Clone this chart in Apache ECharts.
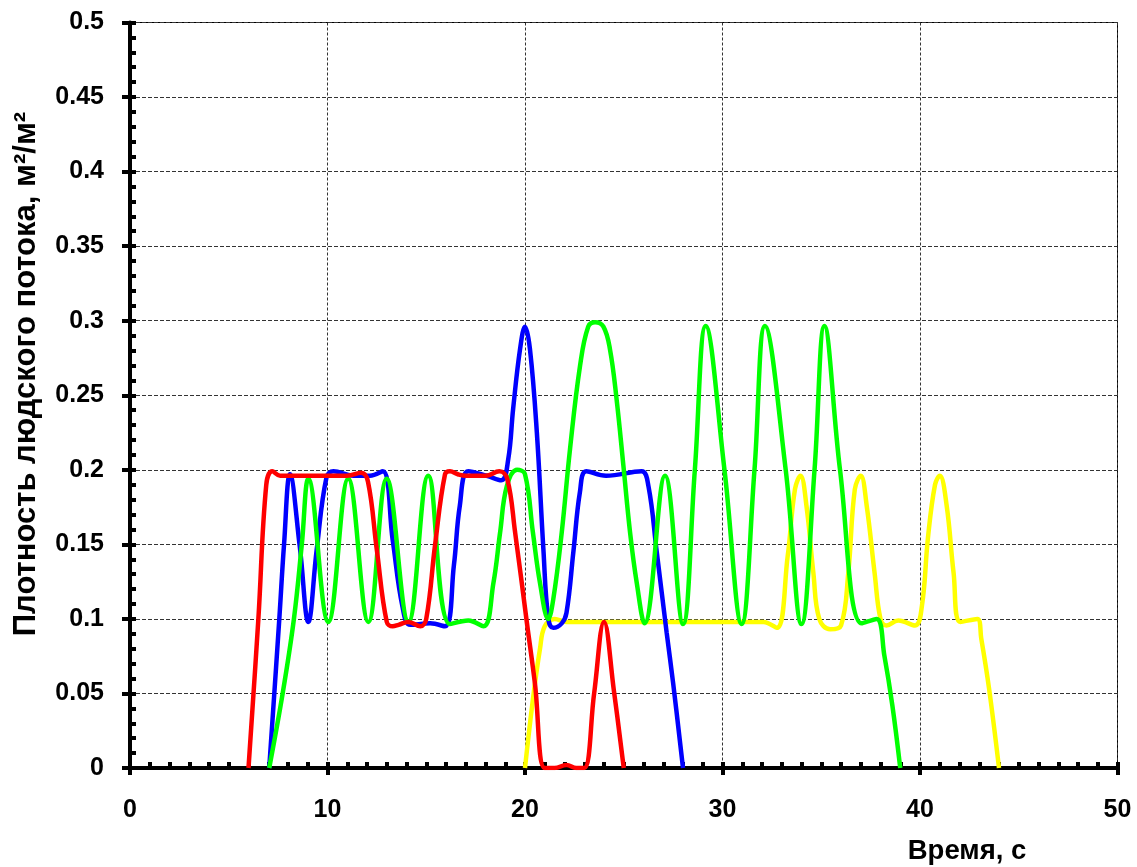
<!DOCTYPE html>
<html>
<head>
<meta charset="utf-8">
<script src="https://cdn.jsdelivr.net/npm/echarts@6/dist/echarts.min.js"></script>
<style>
html,body{margin:0;padding:0;background:#fff;}
#chart{width:1137px;height:867px;}
</style>
</head>
<body>
<div id="chart"></div>
<script>
// ---- data (time in seconds, density m2/m2) ----
const redTime   = [6, 6.5, 6.9, 7.2, 7.6, 8, 9, 10, 11, 11.7, 12.05, 12.5, 13, 13.3, 13.6, 14.1, 14.7, 15, 15.45, 15.95, 16.2, 16.6, 17, 18, 18.7, 19.1, 19.5, 20.1, 20.5, 21, 21.5, 22.1, 22.6, 23, 23.5, 24, 24.5, 25];
const redValues = [0, 0.1, 0.19, 0.199, 0.196, 0.196, 0.196, 0.196, 0.196, 0.198, 0.192, 0.146, 0.098, 0.095, 0.096, 0.098, 0.095, 0.1, 0.15, 0.197, 0.199, 0.197, 0.196, 0.196, 0.199, 0.194, 0.158, 0.097, 0.057, 0, 0, 0.002, 0, 0, 0.05, 0.098, 0.052, 0];

const blueTime   = [7.05, 7.56, 7.8, 8.1, 8.6, 9.03, 9.45, 9.95, 10.3, 11.3, 12.15, 12.8, 13.3, 13.8, 14.2, 15.2, 15.95, 16.4, 16.7, 17.13, 18.06, 18.8, 19.15, 19.4, 19.75, 20.0, 20.25, 20.6, 20.93, 21.18, 21.43, 21.86, 22.1, 22.45, 22.78, 23.1, 24.1, 25.9, 26.25, 26.67, 27.17, 27.5, 28.0];
const blueValues = [0, 0.1, 0.15, 0.197, 0.148, 0.098, 0.146, 0.195, 0.199, 0.196, 0.196, 0.199, 0.153, 0.108, 0.096, 0.097, 0.095, 0.136, 0.176, 0.199, 0.196, 0.193, 0.207, 0.241, 0.281, 0.296, 0.281, 0.225, 0.147, 0.1, 0.094, 0.097, 0.104, 0.145, 0.185, 0.199, 0.196, 0.199, 0.189, 0.145, 0.091, 0.057, 0];

const greenTime   = [7.05, 7.73, 8.3, 8.7, 9.03, 10.04, 11.05, 12.07, 13.0, 14.1, 15.1, 16.2, 17.13, 17.9, 18.4, 18.74, 19.08, 19.6, 20.0, 20.4, 20.76, 21.18, 21.43, 21.86, 22.28, 22.79, 23.2, 23.55, 23.97, 24.3, 24.64, 24.98, 25.32, 25.66, 26.05, 27.09, 28.0, 28.6, 29.15, 30.1, 30.97, 31.62, 32.15, 33.2, 34.0, 34.66, 35.16, 35.95, 37.05, 37.8, 38.2, 38.6, 39.0];
const greenValues = [0, 0.05, 0.1, 0.15, 0.194, 0.098, 0.194, 0.098, 0.194, 0.098, 0.196, 0.0965, 0.099, 0.095, 0.124, 0.158, 0.189, 0.2, 0.197, 0.158, 0.124, 0.1, 0.113, 0.158, 0.214, 0.27, 0.296, 0.299, 0.296, 0.281, 0.247, 0.203, 0.158, 0.124, 0.097, 0.196, 0.0965, 0.2, 0.2965, 0.2, 0.0965, 0.2, 0.2965, 0.2, 0.0965, 0.2, 0.2965, 0.2, 0.097, 0.1, 0.075, 0.042, 0];

const yellowTime   = [20.0, 20.4, 20.76, 21.0, 21.5, 22.1, 27, 32.07, 32.75, 33.3, 33.67, 33.95, 34.25, 34.6, 34.9, 35.45, 36.0, 36.37, 36.7, 37.0, 37.3, 37.7, 38.0, 38.3, 38.9, 39.75, 40.1, 40.4, 40.76, 41.0, 41.35, 41.7, 42.05, 42.9, 43.1, 43.5, 44.0];
const yellowValues = [0, 0.046, 0.08, 0.095, 0.1, 0.098, 0.098, 0.098, 0.094, 0.142, 0.187, 0.196, 0.176, 0.131, 0.1, 0.093, 0.0956, 0.131, 0.187, 0.196, 0.176, 0.131, 0.1, 0.0956, 0.099, 0.0956, 0.109, 0.154, 0.19, 0.196, 0.176, 0.131, 0.098, 0.1, 0.087, 0.053, 0];

const xTicks = [0, 10, 20, 30, 40, 50];
const yTicks = [0, 0.05, 0.1, 0.15, 0.2, 0.25, 0.3, 0.35, 0.4, 0.45, 0.5];

const xTitle = 'Время, с';
const yTitle = 'Плотность людского потока, м²/м²';

function pairs(t, v) { return t.map((x, i) => [x, v[i]]); }

const FONT = '"Liberation Sans", Arial, sans-serif';
const chart = echarts.init(document.getElementById('chart'), null, {renderer: 'canvas'});

const xMin = xTicks[0], xMax = xTicks[xTicks.length - 1], xInt = xTicks[1] - xTicks[0];
const yMin = yTicks[0], yMax = yTicks[yTicks.length - 1], yInt = yTicks[1] - yTicks[0];

function lineSeries(name, t, v, color, z) {
  return {
    name, type: 'line', data: pairs(t, v), smooth: 0.4, showSymbol: false, symbol: 'none',
    lineStyle: {color, width: 4.5}, z, clip: true
  };
}

chart.setOption({
  backgroundColor: '#fff',
  animation: false,
  grid: {left: 130, right: 19.5, top: 22.5, bottom: 99, show: true, borderColor: '#000', borderWidth: 1},
  xAxis: [{
    type: 'value', min: xMin, max: xMax, interval: xInt,
    axisLine: {show: true, onZero: false, lineStyle: {color: '#000', width: 4}},
    axisTick: {show: true, inside: false, length: 7, lineStyle: {color: '#000', width: 4}},
    minorTick: {show: false},
    axisLabel: {color: '#000', fontSize: 25, fontWeight: 'bold', fontFamily: FONT, margin: 30},
    splitLine: {show: true, lineStyle: {color: '#333', width: 1, type: [3, 2]}}
  }, {
    type: 'value', min: xMin, max: xMax, interval: xInt, position: 'bottom', offset: 0,
    axisLine: {show: false},
    axisTick: {show: true, inside: true, length: 6, lineStyle: {color: '#000', width: 4}},
    minorTick: {show: true, splitNumber: 10, length: 6, lineStyle: {color: '#000', width: 4}},
    axisLabel: {show: false}, splitLine: {show: false}
  }],
  yAxis: [{
    type: 'value', min: yMin, max: yMax, interval: yInt,
    axisLine: {show: true, onZero: false, lineStyle: {color: '#000', width: 4}},
    axisTick: {show: true, inside: false, length: 8, lineStyle: {color: '#000', width: 4}},
    minorTick: {show: false},
    axisLabel: {color: '#000', fontSize: 25, fontWeight: 'bold', fontFamily: FONT, margin: 26,
      formatter: v => String(Number(v.toFixed(2)))},
    splitLine: {show: true, lineStyle: {color: '#333', width: 1, type: [4, 2]}}
  }, {
    type: 'value', min: yMin, max: yMax, interval: yInt, position: 'left', offset: 0,
    axisLine: {show: false},
    axisTick: {show: true, inside: true, length: 6, lineStyle: {color: '#000', width: 4}},
    minorTick: {show: true, splitNumber: 5, length: 6, lineStyle: {color: '#000', width: 4}},
    axisLabel: {show: false}, splitLine: {show: false}
  }],
  graphic: [
    {type: 'text', x: 26, y: 374, rotation: Math.PI / 2,
      style: {text: yTitle, font: 'bold 31px ' + FONT, fill: '#000', textAlign: 'center', textVerticalAlign: 'middle'}},
    {type: 'text', x: 967, y: 851,
      style: {text: xTitle, font: 'bold 27.5px ' + FONT, fill: '#000', textAlign: 'center', textVerticalAlign: 'middle'}}
  ],
  series: [
    lineSeries('yellow', yellowTime, yellowValues, '#ffff00', 2),
    lineSeries('blue', blueTime, blueValues, '#0000ff', 3),
    lineSeries('green', greenTime, greenValues, '#00ff00', 4),
    lineSeries('red', redTime, redValues, '#ff0000', 5)
  ]
});
</script>
</body>
</html>
